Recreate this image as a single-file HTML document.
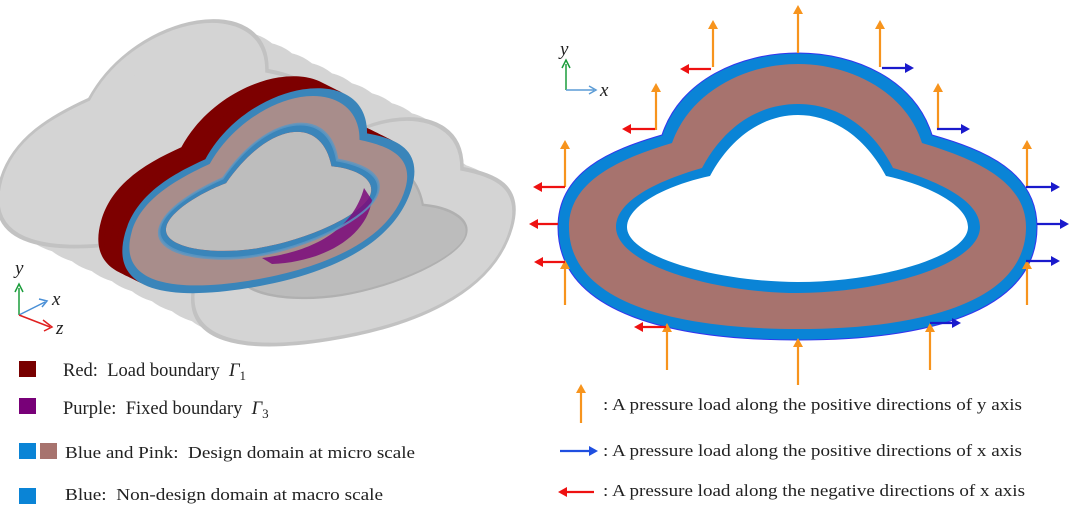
<!DOCTYPE html>
<html><head><meta charset="utf-8"><style>
html,body{margin:0;padding:0;background:#fff;width:1080px;height:517px;overflow:hidden}
svg{display:block}
text{font-family:"Liberation Serif",serif;fill:#222}
</style></head><body>
<svg width="1080" height="517" viewBox="0 0 1080 517" xmlns="http://www.w3.org/2000/svg">
<defs>
<path id="outer" d="M558,227 C558,172 610,150 662,135 C680,80 740,53 798,53 C856,53 915,80 932,135 C985,150 1037,172 1037,227 C1037,315 920,340 798,340 C676,340 558,315 558,227 Z"/>
<path id="brown" d="M569,227 C569,180 622,158 672,143 C690,92 745,64 798,64 C851,64 906,92 922,143 C972,158 1026,180 1026,227 C1026,305 915,329 798,329 C681,329 569,305 569,227 Z"/>
<path id="inblue" d="M616,227 C616,200 660,180 702,168 C725,125 760,104 798,104 C836,104 871,125 893,168 C936,180 980,200 980,227 C980,265 880,293 798,293 C716,293 616,265 616,227 Z"/>
<path id="hole" d="M627,227 C627,205 668,185 710,176 C732,135 765,115 798,115 C831,115 864,135 886,176 C928,185 968,205 968,227 C968,257 878,282 798,282 C718,282 627,257 627,227 Z"/>
<path id="ringB" fill-rule="evenodd" d="M558,227 C558,172 610,150 662,135 C680,80 740,53 798,53 C856,53 915,80 932,135 C985,150 1037,172 1037,227 C1037,315 920,340 798,340 C676,340 558,315 558,227 Z M627,227 C627,205 668,185 710,176 C732,135 765,115 798,115 C831,115 864,135 886,176 C928,185 968,205 968,227 C968,257 878,282 798,282 C718,282 627,257 627,227 Z"/>
<path id="ringP" fill-rule="evenodd" d="M569,227 C569,180 622,158 672,143 C690,92 745,64 798,64 C851,64 906,92 922,143 C972,158 1026,180 1026,227 C1026,305 915,329 798,329 C681,329 569,305 569,227 Z M616,227 C616,200 660,180 702,168 C725,125 760,104 798,104 C836,104 871,125 893,168 C936,180 980,200 980,227 C980,265 880,293 798,293 C716,293 616,265 616,227 Z"/>
<g id="tube"><use href="#outer" transform="translate(268,210) scale(1.1) translate(-268,-210) matrix(0.599,-0.096,-0.195,0.693,-164.9,129.3)"/></g>
<g id="tubeHole"><use href="#hole" transform="translate(268,210) scale(1.1) translate(-268,-210) matrix(0.599,-0.096,-0.195,0.693,-164.9,129.3)"/></g>
</defs>

<g fill="#d4d4d4">
<use href="#tube" transform="translate(-110,-55)"/>
<use href="#tube" transform="translate(-90,-45)"/>
<use href="#tube" transform="translate(-70,-35)"/>
<use href="#tube" transform="translate(-50,-25)"/>
<use href="#tube" transform="translate(-30,-15)"/>
<use href="#tube" transform="translate(-10,-5)"/>
<use href="#tube" transform="translate(10,5)"/>
<use href="#tube" transform="translate(30,15)"/>
<use href="#tube" transform="translate(50,25)"/>
<use href="#tube" transform="translate(70,35)"/>
<use href="#tube" transform="translate(85,43)"/>
</g>
<g fill="#bcbcbc">
<use href="#tubeHole" transform="translate(-40,-20)"/>
<use href="#tubeHole" transform="translate(0,0)"/>
<use href="#tubeHole" transform="translate(40,20)"/>
<use href="#tubeHole" transform="translate(85,43)"/>
</g>
<g fill="none" stroke="#c2c2c2" stroke-width="5">
<use href="#tube" transform="translate(-110,-55)"/>
<use href="#tube" transform="translate(85,43)"/>
</g>
<g fill="none" stroke="#b0b0b0" stroke-width="3">
<use href="#tubeHole" transform="translate(85,43)"/>
</g>
<path d="M262,258 C310,252 352,232 364,188 L374,198 C368,242 322,266 272,266 Z" fill="#7b0a7b"/>
<g fill="#7d0000">
<use href="#outer" transform="translate(-24,-12) matrix(0.599,-0.096,-0.195,0.693,-164.9,129.3)"/>
<use href="#outer" transform="translate(-18,-9) matrix(0.599,-0.096,-0.195,0.693,-164.9,129.3)"/>
<use href="#outer" transform="translate(-12,-6) matrix(0.599,-0.096,-0.195,0.693,-164.9,129.3)"/>
<use href="#outer" transform="translate(-6,-3) matrix(0.599,-0.096,-0.195,0.693,-164.9,129.3)"/>
</g>
<g transform="matrix(0.599,-0.096,-0.195,0.693,-164.9,129.3)">
<use href="#ringB" fill="#3a85ba"/>
<use href="#ringP" fill="#a88d8b"/>
<use href="#hole" fill="#bdbdbd"/>
</g>
<path d="M262,258 C310,252 352,232 364,188 L372,200 C366,238 322,262 272,264 Z" fill="#7b0a7b" opacity="0.85"/>
<g fill="none" stroke="#5d98c4" stroke-width="4" opacity="0.8">
<use href="#inblue" transform="matrix(0.599,-0.096,-0.195,0.693,-164.9,129.3)"/>
</g>

<g stroke-width="1.5" fill="none">
<line x1="19" y1="315" x2="19" y2="288" stroke="#1a9c3a"/>
<path d="M15,292 L19,284 L23,292" stroke="#1a9c3a"/>
<line x1="19" y1="315" x2="45" y2="302" stroke="#4a8fd6"/>
<path d="M39,299 L47,301 L42,307" stroke="#4a8fd6"/>
<line x1="19" y1="315" x2="50" y2="327" stroke="#e02020"/>
<path d="M43,320 L52,327 L44,331" stroke="#e02020"/>
</g>
<text x="15" y="274" font-size="19" font-style="italic">y</text>
<text x="52" y="305" font-size="19" font-style="italic">x</text>
<text x="56" y="334" font-size="19" font-style="italic">z</text>

<rect x="19" y="361" width="17" height="16" fill="#780000"/>
<text x="63" y="376" font-size="18.5">Red:&#160; Load boundary&#160; <tspan font-style="italic">Γ</tspan><tspan font-size="13" dy="4">1</tspan></text>
<rect x="19" y="398" width="17" height="16" fill="#780078"/>
<text x="63" y="414" font-size="18.5">Purple:&#160; Fixed boundary&#160; <tspan font-style="italic">Γ</tspan><tspan font-size="13" dy="4">3</tspan></text>
<rect x="19" y="443" width="17" height="16" fill="#0a84d6"/>
<rect x="40" y="443" width="17" height="16" fill="#a7736e"/>
<text x="65" y="458" font-size="17" textLength="350" lengthAdjust="spacingAndGlyphs">Blue and Pink:&#160; Design domain at micro scale</text>
<rect x="19" y="488" width="17" height="16" fill="#0a84d6"/>
<text x="65" y="500" font-size="17" textLength="318" lengthAdjust="spacingAndGlyphs">Blue:&#160; Non-design domain at macro scale</text>

<use href="#outer" fill="#0a84d6" stroke="#3333ee" stroke-width="1"/>
<use href="#brown" fill="#a7736e"/>
<use href="#inblue" fill="#0a84d6"/>
<use href="#hole" fill="#fff"/>

<g stroke-width="1.5" fill="none">
<line x1="566" y1="90" x2="566" y2="64" stroke="#1a9c3a"/>
<path d="M562,68 L566,60 L570,68" stroke="#1a9c3a"/>
<line x1="566" y1="90" x2="594" y2="90" stroke="#5b9bd5"/>
<path d="M589,86 L596,90 L589,94" stroke="#5b9bd5"/>
</g>
<text x="560" y="55" font-size="19" font-style="italic">y</text>
<text x="600" y="96" font-size="19" font-style="italic">x</text>

<g stroke="#f7941d" stroke-width="2.2">
<line x1="713" y1="67" x2="713" y2="28"/>
<line x1="798" y1="53" x2="798" y2="13"/>
<line x1="880" y1="67" x2="880" y2="28"/>
<line x1="656" y1="130" x2="656" y2="91"/>
<line x1="938" y1="130" x2="938" y2="91"/>
<line x1="565" y1="187" x2="565" y2="148"/>
<line x1="1027" y1="187" x2="1027" y2="148"/>
<line x1="565" y1="305" x2="565" y2="268"/>
<line x1="1027" y1="305" x2="1027" y2="268"/>
<line x1="667" y1="370" x2="667" y2="331"/>
<line x1="930" y1="370" x2="930" y2="331"/>
<line x1="798" y1="385" x2="798" y2="346"/>
<line x1="581" y1="423" x2="581" y2="392"/>
</g>
<g fill="#f7941d">
<path d="M708,29 L713,20 L718,29Z"/><path d="M793,14 L798,5 L803,14Z"/><path d="M875,29 L880,20 L885,29Z"/>
<path d="M651,92 L656,83 L661,92Z"/><path d="M933,92 L938,83 L943,92Z"/>
<path d="M560,149 L565,140 L570,149Z"/><path d="M1022,149 L1027,140 L1032,149Z"/>
<path d="M560,269 L565,260 L570,269Z"/><path d="M1022,269 L1027,260 L1032,269Z"/>
<path d="M662,332 L667,323 L672,332Z"/><path d="M925,332 L930,323 L935,332Z"/>
<path d="M793,347 L798,338 L803,347Z"/><path d="M576,393 L581,384 L586,393Z"/>
</g>
<g stroke="#ee1111" stroke-width="2.2">
<line x1="711" y1="69" x2="688" y2="69"/>
<line x1="655" y1="129" x2="630" y2="129"/>
<line x1="565" y1="187" x2="541" y2="187"/>
<line x1="558" y1="224" x2="537" y2="224"/>
<line x1="565" y1="262" x2="542" y2="262"/>
<line x1="666" y1="327" x2="642" y2="327"/>
<line x1="594" y1="492" x2="566" y2="492"/>
</g>
<g fill="#ee1111">
<path d="M689,64 L680,69 L689,74Z"/><path d="M631,124 L622,129 L631,134Z"/>
<path d="M542,182 L533,187 L542,192Z"/><path d="M538,219 L529,224 L538,229Z"/>
<path d="M543,257 L534,262 L543,267Z"/><path d="M643,322 L634,327 L643,332Z"/>
<path d="M567,487 L558,492 L567,497Z"/>
</g>
<g stroke="#1a1acc" stroke-width="2.2">
<line x1="882" y1="68" x2="906" y2="68"/>
<line x1="937" y1="129" x2="962" y2="129"/>
<line x1="1026" y1="187" x2="1052" y2="187"/>
<line x1="1037" y1="224" x2="1061" y2="224"/>
<line x1="1026" y1="261" x2="1052" y2="261"/>
<line x1="930" y1="323" x2="953" y2="323"/>
<line x1="560" y1="451" x2="590" y2="451" stroke="#1f4fe0"/>
</g>
<g fill="#1a1acc">
<path d="M905,63 L914,68 L905,73Z"/><path d="M961,124 L970,129 L961,134Z"/>
<path d="M1051,182 L1060,187 L1051,192Z"/><path d="M1060,219 L1069,224 L1060,229Z"/>
<path d="M1051,256 L1060,261 L1051,266Z"/><path d="M952,318 L961,323 L952,328Z"/>
<path d="M589,446 L598,451 L589,456Z" fill="#1f4fe0"/>
</g>

<text x="603" y="410" font-size="17" textLength="419" lengthAdjust="spacingAndGlyphs">: A pressure load along the positive directions of y axis</text>
<text x="603" y="456" font-size="17" textLength="419" lengthAdjust="spacingAndGlyphs">: A pressure load along the positive directions of x axis</text>
<text x="603" y="496" font-size="17" textLength="422" lengthAdjust="spacingAndGlyphs">: A pressure load along the negative directions of x axis</text>
</svg>
</body></html>
